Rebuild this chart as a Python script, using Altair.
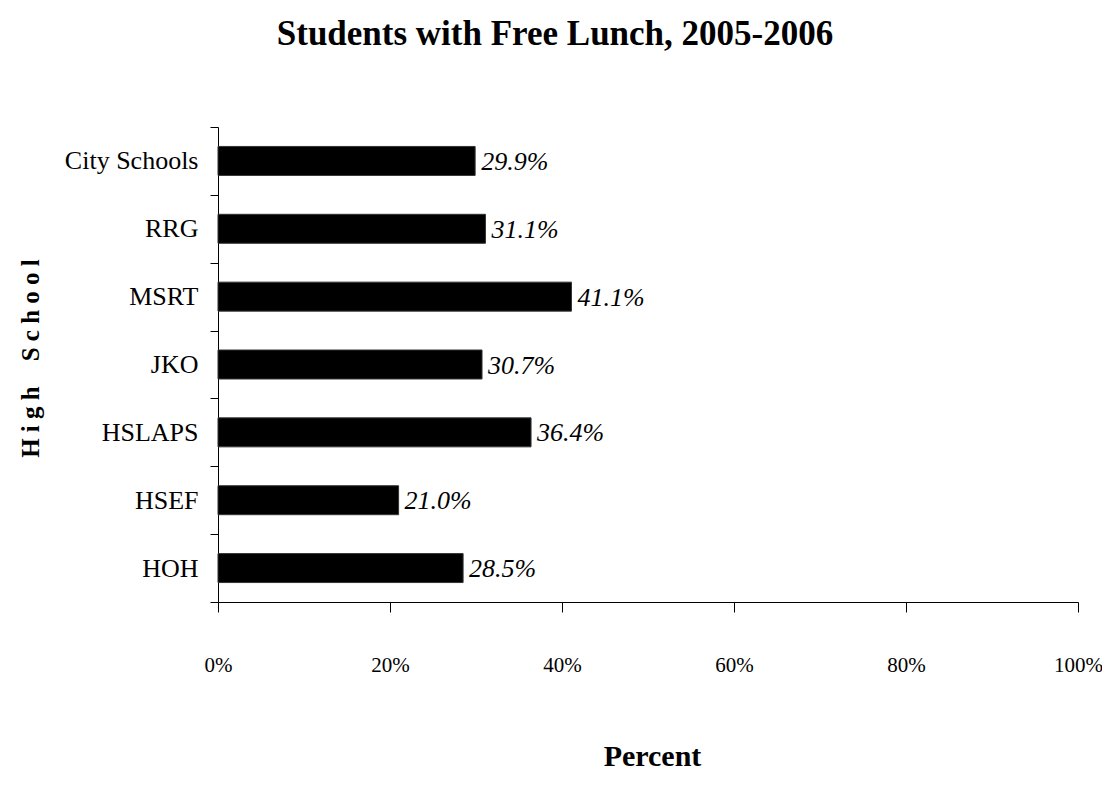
import altair as alt
import pandas as pd

schools = ["City Schools", "RRG", "MSRT", "JKO", "HSLAPS", "HSEF", "HOH"]
values = [29.9, 31.1, 41.1, 30.7, 36.4, 21.0, 28.5]
labels = ["29.9%", "31.1%", "41.1%", "30.7%", "36.4%", "21.0%", "28.5%"]

df = pd.DataFrame({"school": schools, "value": values, "label": labels})

FONT = "Liberation Serif"

y_enc = alt.Y(
    "school:N",
    sort=schools,
    scale=alt.Scale(paddingInner=0, paddingOuter=0),
    axis=alt.Axis(
        title="H i g h \u00a0\u00a0 S c h o o l",
        titleFont=FONT, titleFontSize=25, titleFontWeight="bold", titleColor="black",
        titleAngle=-90, titleX=-188, titleY=231, titleAlign="center", titleBaseline="middle",
        labelFont=FONT, labelFontSize=26, labelColor="black", labelPadding=12,
        tickBand="extent", tickSize=8, tickColor="black", domainColor="black",
        ticks=True, grid=False,
    ),
)

x_enc = alt.X(
    "value:Q",
    scale=alt.Scale(domain=[0, 100], nice=False),
    axis=alt.Axis(
        title="Percent",
        titleFont=FONT, titleFontSize=30, titleFontWeight="bold", titleColor="black",
        titleX=434, titleY=163, titleAlign="center", titleBaseline="alphabetic",
        values=[0, 20, 40, 60, 80, 100],
        labelExpr="datum.value + '%'",
        labelFont=FONT, labelFontSize=21, labelColor="black",
        labelBaseline="alphabetic", labelPadding=59, labelFlush=False,
        tickSize=10, tickColor="black", domainColor="black", grid=False,
    ),
)

bars = alt.Chart(df).mark_bar(
    color="black", stroke="#333333", strokeWidth=1,
    height=alt.RelativeBandSize(0.427),
).encode(x=x_enc, y=y_enc)

texts = alt.Chart(df).mark_text(
    align="left", baseline="middle", dx=6, dy=1,
    font=FONT, fontSize=26, fontStyle="italic", color="black",
).encode(
    x=alt.X("value:Q"),
    y=alt.Y("school:N", sort=schools),
    text="label:N",
)

chart = alt.layer(bars, texts).properties(
    width=860,
    height=475,
    background="white",
    title=alt.TitleParams(
        text="Students with Free Lunch, 2005-2006",
        font=FONT, fontSize=35, fontWeight="bold", color="black",
        anchor="middle", frame="group", dx=-93, offset=34, baseline="alphabetic",
    ),
    autosize=alt.AutoSizeParams(type="none"),
    padding={"left": 210, "top": 119, "right": 24, "bottom": 172},
).configure_view(stroke="transparent", strokeWidth=0)

chart.save("out.html", embed_options={"renderer": "svg", "actions": False})
